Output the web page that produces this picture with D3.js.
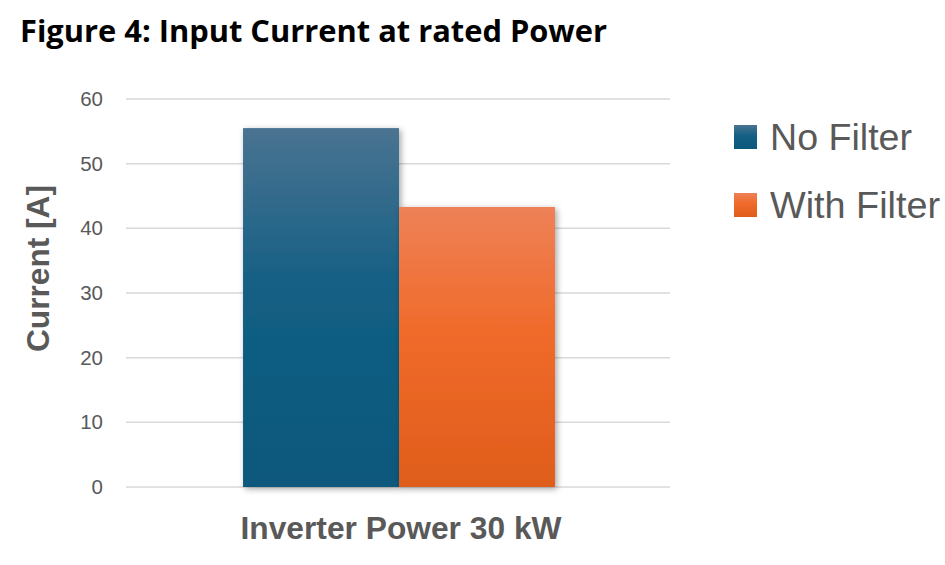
<!DOCTYPE html>
<html><head><meta charset="utf-8">
<script src="https://cdn.jsdelivr.net/npm/d3@7"></script>
<style>body{margin:0;background:#fff}svg{display:block}</style>
</head><body>
<svg id="c" width="945" height="565"></svg>
<script>
const categories = ["Inverter Power 30 kW"];
const seriesNames = ["No Filter", "With Filter"];
const noFilter = [55.5];
const withFilter = [43.3];
const yTicks = [0, 10, 20, 30, 40, 50, 60];

(function(){
const svg = d3.select("#c");
const mL = 126, mR = 670, mT = 99, mB = 487;
const grey = "#595959";

const defs = svg.append("defs");
const g1 = defs.append("linearGradient").attr("id","gBlue").attr("x1",0).attr("y1",0).attr("x2",0).attr("y2",1);
g1.append("stop").attr("offset","0%").attr("stop-color","#4A7391");
g1.append("stop").attr("offset","45%").attr("stop-color","#135F84");
g1.append("stop").attr("offset","100%").attr("stop-color","#0A587C");
const g2 = defs.append("linearGradient").attr("id","gOrange").attr("x1",0).attr("y1",0).attr("x2",0).attr("y2",1);
g2.append("stop").attr("offset","0%").attr("stop-color","#EE8157");
g2.append("stop").attr("offset","45%").attr("stop-color","#F06A2A");
g2.append("stop").attr("offset","100%").attr("stop-color","#DF5D1B");
const f = defs.append("filter").attr("id","sh").attr("x","-10%").attr("y","-10%").attr("width","130%").attr("height","130%");
f.append("feDropShadow").attr("dx",2).attr("dy",2).attr("stdDeviation",3).attr("flood-color","#000").attr("flood-opacity",0.35);

const y = d3.scaleLinear().domain([0,60]).range([mB, mT]);
const x0 = d3.scaleBand().domain(categories).range([mL + 1, mR + 1]).paddingInner(0).paddingOuter(0.372);
const x1 = d3.scaleBand().domain(seriesNames).range([0, x0.bandwidth()]).padding(0);

svg.append("g").selectAll("line").data(yTicks).join("line")
  .attr("x1", mL).attr("x2", mR)
  .attr("y1", d => y(d)).attr("y2", d => y(d))
  .attr("stroke", "#D9D9D9").attr("stroke-width", 1.5);

const yAxis = d3.axisLeft(y).tickValues(yTicks).tickSize(0).tickPadding(0);
const ya = svg.append("g").attr("transform", `translate(${mL-23},0)`).call(yAxis);
ya.select(".domain").remove();
ya.selectAll("text").attr("font-family","Liberation Sans, Arial, sans-serif").attr("font-size",20.5).attr("fill",grey);

const data = categories.map((c,i) => ({cat:c, vals:[{s:seriesNames[0], v:noFilter[i], fill:"url(#gBlue)"},{s:seriesNames[1], v:withFilter[i], fill:"url(#gOrange)"}]}));
const grp = svg.append("g").selectAll("g").data(data).join("g")
  .attr("transform", d => `translate(${x0(d.cat)},0)`);
grp.selectAll("rect").data(d => d.vals).join("rect")
  .attr("x", d => x1(d.s)).attr("width", x1.bandwidth())
  .attr("y", d => y(d.v)).attr("height", d => y(0) - y(d.v))
  .attr("fill", d => d.fill).attr("filter","url(#sh)");

const xAxis = d3.axisBottom(x0).tickSize(0).tickPadding(0);
const xa = svg.append("g").attr("transform", `translate(2,${mB+39})`).call(xAxis);
xa.select(".domain").remove();
xa.selectAll("text").attr("font-family","Liberation Sans, Arial, sans-serif").attr("font-weight","bold")
  .attr("font-size",32).attr("fill",grey).attr("dy","0.71em").attr("y",-10)
  .attr("textLength",321).attr("lengthAdjust","spacingAndGlyphs");

svg.append("text").attr("transform","translate(49,268.5) rotate(-90)").attr("text-anchor","middle")
  .attr("font-family","Liberation Sans, Arial, sans-serif").attr("font-weight","bold").attr("font-size",32)
  .attr("fill",grey).attr("textLength",167).attr("lengthAdjust","spacingAndGlyphs").text("Current [A]");

svg.append("text").attr("x",20).attr("y",42)
  .attr("font-family","Open Sans, sans-serif").attr("font-weight","bold").attr("font-size",30)
  .attr("fill","#000").attr("textLength",587).attr("lengthAdjust","spacingAndGlyphs")
  .text("Figure 4: Input Current at rated Power");

const legFills = ["url(#gBlue)","url(#gOrange)"];
const legLens = [142, 170];
const leg = svg.append("g").selectAll("g").data(seriesNames).join("g")
  .attr("transform", (d,i) => `translate(734,${125 + i*68})`);
leg.append("rect").attr("width",23).attr("height",24).attr("fill",(d,i)=>legFills[i]);
leg.append("text").attr("x",36).attr("y",25)
  .attr("font-family","Liberation Sans, Arial, sans-serif").attr("font-size",36).attr("fill",grey)
  .attr("textLength",(d,i)=>legLens[i]).attr("lengthAdjust","spacingAndGlyphs")
  .text(d => d);
})();
</script>
</body></html>
